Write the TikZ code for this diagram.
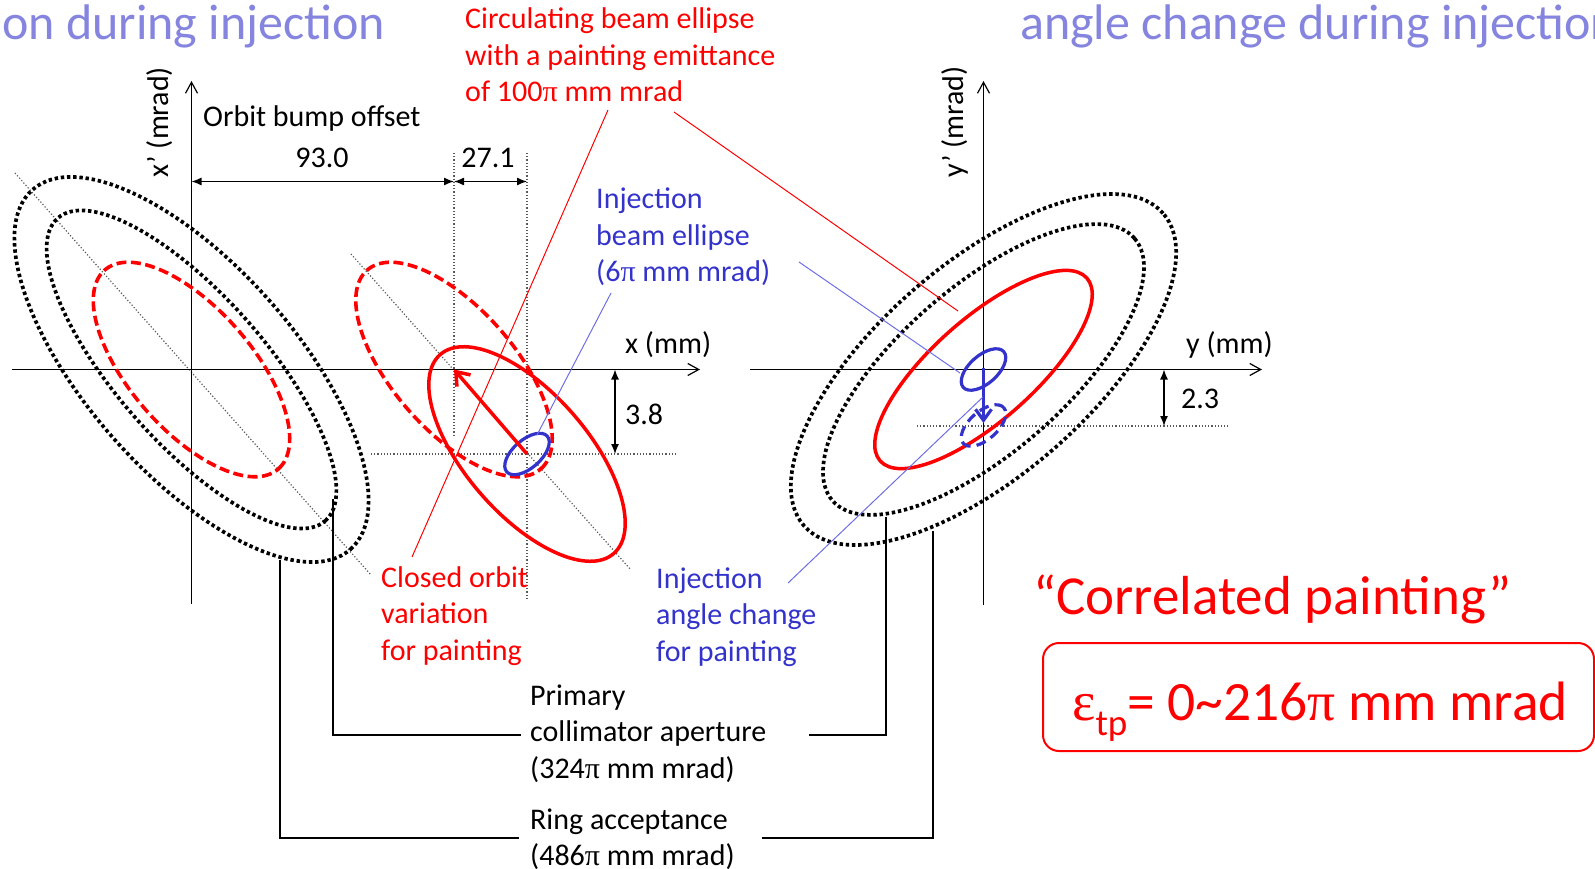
\documentclass[tikz,border=0pt]{standalone}
\usepackage{fontspec}
\setmainfont{Carlito}
\newfontfamily\symf{Liberation Serif}
\usetikzlibrary{arrows.meta}
\definecolor{myred}{RGB}{255,0,0}
\definecolor{myblue}{RGB}{51,51,204}
\definecolor{lblue}{RGB}{110,110,228}
\definecolor{ttl}{RGB}{133,133,224}
\newcommand{\mypi}{{\symf π}}
\newcommand{\lines}[1]{\begin{tabular}[t]{@{}l@{}}#1\end{tabular}}
\begin{document}
\begin{tikzpicture}[x=1pt,y=-1pt,
  font=\fontsize{30}{36.5}\selectfont,
  lbl/.style={inner sep=0pt, anchor=base west},
  axisline/.style={line width=1.2pt, -{Straight Barb[length=11pt,width=12pt]}},
  dimline/.style={line width=1.3pt, {Latex[length=10pt,width=8pt]}-{Latex[length=10pt,width=8pt]}},
  guide/.style={black!65, line width=1.2pt, dash pattern=on 1.2pt off 2pt},
  accept/.style={black, line width=3.7pt, dash pattern=on 3.4pt off 2.8pt},
  painted/.style={myred, line width=3.6pt, dash pattern=on 10pt off 4.5pt},
  circbeam/.style={myred, line width=3.5pt},
  injbeam/.style={myblue, line width=3.2pt},
  leadr/.style={myred, line width=1pt},
  leadb/.style={lblue, line width=1pt},
  leadk/.style={black, line width=1.3pt}]
\useasboundingbox (0,0) rectangle (1595,869);

% ---------- titles ----------
\node[lbl, text=ttl, font=\fontsize{50}{56}\selectfont] (ttlL) at (2,40) {on during injection};
\node[lbl, text=ttl, font=\fontsize{50}{56}\selectfont] (ttlR) at (1020,40) {angle change during injection};

% ---------- key points ----------
\coordinate (O1) at (191.5,369.5);
\coordinate (B1) at (454,369.5);
\coordinate (P1) at (527,454);
\coordinate (O2) at (983.5,369.5);
\coordinate (P2) at (983.5,425.5);

% ---------- guides (left) ----------
\coordinate (g1a) at (15,173);   \coordinate (g1b) at (371,575);
\coordinate (g2a) at (351,254);  \coordinate (g2b) at (631,570);
\draw[guide] (g1a) -- (g1b);
\draw[guide] (g2a) -- (g2b);
\coordinate (v1a) at (454,153);  \coordinate (v1b) at (454,437);
\coordinate (v2a) at (527,153);  \coordinate (v2b) at (527,598);
\coordinate (h1a) at (371,454);  \coordinate (h1b) at (677,454);
\draw[guide] (v1a) -- (v1b);
\draw[guide] (v2a) -- (v2b);
\draw[guide] (h1a) -- (h1b);
% guides (right)
\coordinate (h2a) at (917,426);  \coordinate (h2b) at (1228,426);
\draw[guide] (h2a) -- (h2b);

% ---------- axes ----------
\coordinate (xa0) at (12,369.5);  \coordinate (xa1) at (700,369.5);
\coordinate (xp0) at (191.5,604); \coordinate (xp1) at (191.5,81);
\draw[axisline] (xa0) -- (xa1);
\draw[axisline] (xp0) -- (xp1);
\coordinate (ya0) at (750,369.5);  \coordinate (ya1) at (1262,369.5);
\coordinate (yp0) at (983.5,605);  \coordinate (yp1) at (983.5,81);
\draw[axisline] (ya0) -- (ya1);
\draw[axisline] (yp0) -- (yp1);

\node[inner sep=0pt, anchor=base, rotate=90] (xlab) at (168,122) {x’ (mrad)};
\node[inner sep=0pt, anchor=base, rotate=90] (ylab) at (963,122) {y’ (mrad)};
\node[lbl] (xmm) at (625,353) {x (mm)};
\node[lbl] (ymm) at (1186,353) {y (mm)};

% ---------- left ellipses ----------
\draw[accept, shift={(O1)}, rotate=-48.5] (0,0) ellipse [x radius=240pt, y radius=104pt];
\draw[accept, shift={(O1)}, rotate=-48.5] (0,0) ellipse [x radius=202pt, y radius=74pt];
\draw[painted, shift={(O1)}, rotate=-48.9] (0,0) ellipse [x radius=132pt, y radius=61pt];
\draw[painted, shift={(B1)}, rotate=-48.9] (0,0) ellipse [x radius=132pt, y radius=61pt];
\draw[circbeam, shift={(P1)}, rotate=-48.9] (0,0) ellipse [x radius=132pt, y radius=61pt];
\draw[injbeam, shift={(P1)}, rotate=41.5] (0,0) ellipse [x radius=27pt, y radius=14pt];
\draw[circbeam, -{Straight Barb[length=12pt,width=18pt]}] (P1) -- (B1);

% ---------- right ellipses ----------
\draw[accept, shift={(O2)}, rotate=41] (0,0) ellipse [x radius=238pt, y radius=106pt];
\draw[accept, shift={(O2)}, rotate=41] (0,0) ellipse [x radius=200pt, y radius=83pt];
\draw[circbeam, shift={(O2)}, rotate=41.5] (0,0) ellipse [x radius=138pt, y radius=51pt];
\draw[injbeam, shift={(O2)}, rotate=41.5] (0,0) ellipse [x radius=27pt, y radius=14pt];
\draw[injbeam, dash pattern=on 10pt off 6pt, shift={(P2)}, rotate=41.5] (0,0) ellipse [x radius=27pt, y radius=14pt];
\coordinate (ar0) at (983.5,368);
\coordinate (ar1) at (983.5,423);
\draw[injbeam, -{Straight Barb[length=11pt,width=16pt]}] (ar0) -- (ar1);

% ---------- dimensions ----------
\node[lbl] (bump) at (203,127) {Orbit bump offset};
\coordinate (d1a) at (191.5,181.5); \coordinate (d1b) at (454,181.5);
\coordinate (d2b) at (527,181.5);
\draw[dimline] (d1a) -- (d1b);
\draw[dimline] (d1b) -- (d2b);
\node[inner sep=0pt, anchor=base] (d93) at (322,168) {93.0};
\node[inner sep=0pt, anchor=base] (d27) at (488,168) {27.1};
\coordinate (d3a) at (615,369.5); \coordinate (d3b) at (615,454);
\draw[dimline] (d3a) -- (d3b);
\node[lbl] (d38) at (625,424) {3.8};
\coordinate (d4a) at (1164,369.5); \coordinate (d4b) at (1164,426);
\draw[dimline] (d4a) -- (d4b);
\node[lbl] (d23) at (1181,408) {2.3};

% ---------- labels ----------
\node[lbl, text=myred] (circ) at (465,29) {\lines{Circulating beam ellipse\\with a painting emittance\\of 100\mypi{} mm mrad}};
\node[lbl, text=myblue] (injb) at (596,209) {\lines{Injection\\beam ellipse\\(6\mypi{} mm mrad)}};
\node[lbl, text=myred] (clo) at (381,587) {\lines{Closed orbit\\variation\\for painting}};
\node[lbl, text=myblue] (inja) at (656,588) {\lines{Injection\\angle change\\for painting}};
\node[lbl] (prim) at (530,705) {\lines{Primary\\collimator aperture\\(324\mypi{} mm mrad)}};
\node[lbl] (ring) at (530,829) {\lines{Ring acceptance\\(486\mypi{} mm mrad)}};

% ---------- leaders ----------
\coordinate (lA1) at (608,110);  \coordinate (lA2) at (412,557);
\coordinate (lB1) at (674,112);  \coordinate (lB2) at (958,311);
\draw[leadr] (lA1) -- (lA2);
\draw[leadr] (lB1) -- (lB2);
\coordinate (lC1) at (611,293);  \coordinate (lC2) at (537,435);
\coordinate (lD1) at (799,262);  \coordinate (lD2) at (960,373);
\coordinate (lE1) at (788,583);  \coordinate (lE2) at (983,397);
\draw[leadb] (lC1) -- (lC2);
\draw[leadb] (lD1) -- (lD2);
\draw[leadb] (lE1) -- (lE2);

\coordinate (k1a) at (333,499); \coordinate (k1b) at (333,735); \coordinate (k1c) at (521,735);
\coordinate (k2a) at (809,735); \coordinate (k2b) at (886,735); \coordinate (k2c) at (886,517);
\coordinate (k3a) at (280,560); \coordinate (k3b) at (280,838); \coordinate (k3c) at (519,838);
\coordinate (k4a) at (762,838); \coordinate (k4b) at (933,838); \coordinate (k4c) at (933,531);
\draw[leadk] (k1a) -- (k1b) -- (k1c);
\draw[leadk] (k2a) -- (k2b) -- (k2c);
\draw[leadk] (k3a) -- (k3b) -- (k3c);
\draw[leadk] (k4a) -- (k4b) -- (k4c);

% ---------- correlated painting ----------
\node[lbl, text=myred, font=\fontsize{55}{60}\selectfont] (corr) at (1033,614) {“Correlated painting”};
\draw[myred, line width=2pt, rounded corners=16pt] (1043,643) rectangle (1594,751);
\node[lbl, text=myred, font=\fontsize{55.5}{60}\selectfont] (eps) at (1072,720)
  {{\symf ε}\raisebox{-0.28em}{\fontsize{37}{40}\selectfont tp}= 0\textasciitilde 216\mypi{} mm mrad};
\end{tikzpicture}
\end{document}
